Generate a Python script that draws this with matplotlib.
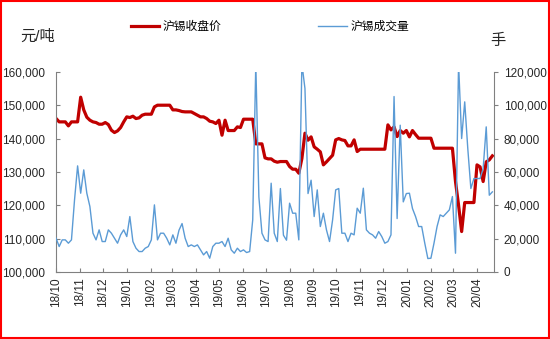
import matplotlib
matplotlib.use("Agg")
import matplotlib.pyplot as plt
import matplotlib.dates as mdates
from matplotlib.ticker import FuncFormatter, MultipleLocator
from matplotlib.patches import Rectangle
import pandas as pd

plt.rcParams['font.family'] = ['Liberation Sans', 'Noto Sans CJK SC']

# sampled every 4 days from 2018-10-01
dates = pd.date_range('2018-10-01', periods=143, freq='4D')

# 沪锡收盘价 (元/吨, in thousands)
price = [146, 145, 145, 145, 143.8, 145, 145, 145, 152.4, 148.6,
         146.4, 145.5, 145, 144.8, 144.3, 144.3, 144.8, 144.2, 142.5, 141.8,
         142.3, 143.3, 145, 146.5, 146.3, 146.7, 146, 146.2, 147, 147.3,
         147.3, 147.3, 149.5, 150, 150, 150, 150, 150, 148.6, 148.6,
         148.4, 148.1, 148, 148, 148, 147.5, 147, 146.5, 146.5, 146,
         145.2, 145, 144.5, 145.5, 141, 145.5, 142.4, 142.4, 142.4, 143.5,
         143.3, 145.8, 145.8, 145.8, 145.8, 138.4, 138.4, 138.4, 134.2, 133.9,
         133.9, 133.2, 132.9, 133.1, 133.1, 133.1, 131.6, 130.8, 130.8, 129.6,
         134, 141.6, 139.5, 140.5, 137.5, 136.8, 136, 132.1, 133, 134,
         135, 139.6, 140, 139.6, 139.4, 137.8, 137.8, 139.6, 136.1, 136.8,
         136.8, 136.8, 136.8, 136.8, 136.8, 136.8, 136.8, 136.8, 144.1, 142.6,
         143.5, 140.6, 142.4, 141.6, 142.4, 140.5, 142.4, 141.2, 140.1, 140.1,
         140.1, 140.1, 140.1, 137.1, 137.1, 137.1, 137.1, 137.1, 137.1, 137.1,
         127.1, 120, 112.1, 120.8, 120.8, 120.8, 120.8, 132.1, 131.5, 127.1,
         133, 133.6, 134.8]

# 沪锡成交量 (手, in thousands)
volume = [20.2, 15.2, 19.2, 19.2, 17.2, 19.2, 43.2, 63.6, 47.2, 61.2,
          47.2, 39.2, 23.2, 19.2, 25.2, 18.2, 18.2, 25.2, 23.2, 20.2,
          17.2, 22.2, 25.2, 21.2, 33.2, 18.2, 14.2, 12.2, 12.2, 14.2,
          15.2, 19.2, 40.2, 19.2, 23.2, 23.2, 20.2, 16.2, 22.2, 17.2,
          25, 29, 20.2, 15.2, 16.2, 15.2, 16.2, 13.2, 10.2, 12.2,
          8.2, 15.2, 17.2, 17.2, 18.2, 15.2, 20.2, 13.2, 11.2, 14.2,
          12.2, 13.2, 11.6, 12.2, 31.2, 125, 45, 23.2, 19.2, 18.2,
          53.2, 23.2, 18.2, 50, 22, 19, 41.2, 35.2, 35.2, 19.2,
          125, 110, 47, 55, 33.2, 49.2, 27.2, 35.2, 25.2, 18.2,
          31.2, 49.2, 50, 23.2, 23.2, 18.2, 23.2, 22.2, 38.2, 35.2,
          50.2, 25.2, 23.2, 22.2, 20.2, 24.2, 21.2, 17.2, 18.2, 22.2,
          105.2, 32, 88, 42, 47, 47.2, 38, 33.2, 27.2, 27.2,
          17.2, 8, 8.2, 17.2, 27.2, 34.2, 33.2, 35.2, 37.2, 45.2,
          11.2, 125, 80, 102, 74, 50, 56, 56, 56, 62,
          87, 46, 48]

price = [p * 1000 for p in price]
volume = [v * 1000 for v in volume]

red = '#C00000'
blue = '#5B9BD5'
grey = '#808080'

fig = plt.figure(figsize=(5.5, 3.39), dpi=100)
fig.subplots_adjust(left=0.102, right=0.898, top=0.788, bottom=0.198)
ax = fig.add_subplot(111)
ax2 = ax.twinx()

l1, = ax.plot(dates, price, color=red, lw=2.3, label='沪锡收盘价')
l2, = ax2.plot(dates, volume, color=blue, lw=1.0, label='沪锡成交量')

ax.set_ylim(100000, 160000)
ax.yaxis.set_major_locator(MultipleLocator(10000))
ax2.set_ylim(0, 120000)
ax2.yaxis.set_major_locator(MultipleLocator(20000))
fmt = FuncFormatter(lambda v, p: '{:,.0f}'.format(v))
ax.yaxis.set_major_formatter(fmt)
ax2.yaxis.set_major_formatter(fmt)

ax.set_xlim(pd.Timestamp('2018-10-01'), pd.Timestamp('2020-04-23'))
ax.xaxis.set_major_locator(mdates.MonthLocator())
ax.xaxis.set_major_formatter(mdates.DateFormatter('%y/%m'))
for lab in ax.get_xticklabels():
    lab.set_rotation(90)

for a in (ax, ax2):
    a.spines['top'].set_visible(False)
    for s in ('left', 'right', 'bottom'):
        a.spines[s].set_color(grey)
ax.spines['right'].set_visible(False)
ax2.spines['left'].set_visible(False)
ax2.spines['bottom'].set_visible(False)
ax.tick_params(axis='y', direction='in', length=3, color=grey, labelsize=8.5, labelcolor='#262626', pad=8)
ax.tick_params(axis='x', direction='in', length=3, color=grey, labelsize=8.5, labelcolor='#262626', pad=4)
ax2.tick_params(axis='y', direction='out', length=3, color=grey, labelsize=8.5, labelcolor='#262626', pad=4)

fig.text(20 / 550, 1 - 37 / 339, '元/吨', fontsize=11, ha='left', va='center', color='#262626')
fig.text(498 / 550, 1 - 41 / 339, '手', fontsize=11, ha='center', va='center', color='#262626')

fig.legend(handles=[l1, l2], loc='center', bbox_to_anchor=(0.491, 0.920), ncol=2,
           frameon=False, fontsize=8.5, handlelength=2.4, handletextpad=0.3,
           columnspacing=8.2)

fig.patches.append(Rectangle((0.002, 0.003), 0.996, 0.994, transform=fig.transFigure,
                             fill=False, edgecolor='#FF0000', lw=1.5))

plt.savefig('out.png', dpi=100)
